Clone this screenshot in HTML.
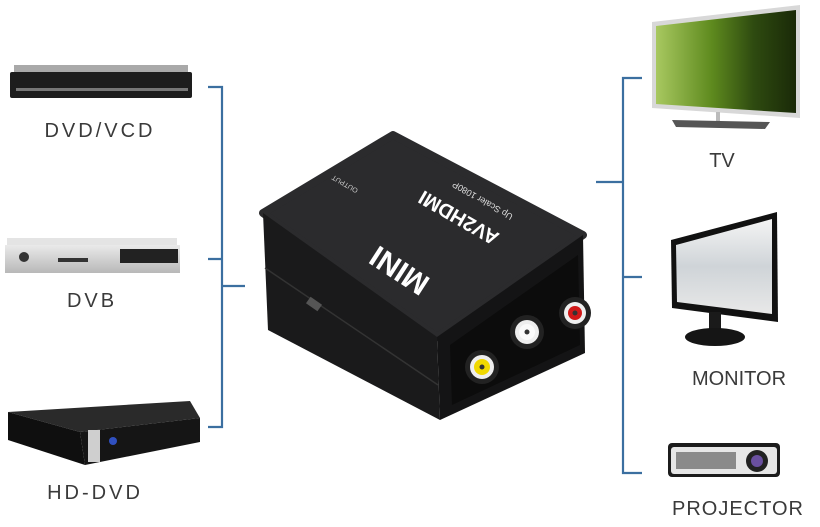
<!DOCTYPE html>
<html><head><meta charset="utf-8"><style>
html,body{margin:0;padding:0;background:#fff}
svg{display:block}
text{font-family:"Liberation Sans",sans-serif;fill:#3a3a3a}
</style></head><body>
<svg width="820" height="527" viewBox="0 0 820 527" xmlns="http://www.w3.org/2000/svg">
<defs>
<linearGradient id="tvg" x1="0" y1="0" x2="1" y2="0"><stop offset="0" stop-color="#a8c860"/><stop offset="0.4" stop-color="#5e8a1e"/><stop offset="0.7" stop-color="#2e4a10"/><stop offset="1" stop-color="#1a2a08"/></linearGradient>
<linearGradient id="mon" x1="0" y1="0" x2="0" y2="1"><stop offset="0" stop-color="#f4f4f4"/><stop offset="0.5" stop-color="#cfd4d8"/><stop offset="1" stop-color="#e8e8e8"/></linearGradient>
<linearGradient id="sil" x1="0" y1="0" x2="0" y2="1"><stop offset="0" stop-color="#eaeaea"/><stop offset="1" stop-color="#b8b8b8"/></linearGradient>
</defs>
<g stroke="#3b6fa0" stroke-width="2.2" fill="none">
<path d="M208 87H222V427H208M208 259H222M222 286H245"/>
<path d="M642 78H623V473H642M642 277H623M623 182H596"/>
</g>
<!-- DVD -->
<rect x="14" y="65" width="174" height="8" fill="#a9a9a9"/>
<rect x="10" y="72" width="182" height="26" rx="2" fill="#1d1d1d"/>
<rect x="16" y="88" width="172" height="3" fill="#777"/>
<text x="100" y="137" font-size="20" text-anchor="middle" letter-spacing="3">DVD/VCD</text>
<!-- DVB -->
<rect x="7" y="238" width="170" height="8" fill="#e4e4e4"/>
<rect x="5" y="245" width="175" height="28" fill="url(#sil)"/>
<rect x="120" y="249" width="58" height="14" fill="#222"/>
<circle cx="24" cy="257" r="5" fill="#333"/>
<rect x="58" y="258" width="30" height="4" fill="#333"/>
<text x="92" y="307" font-size="20" text-anchor="middle" letter-spacing="3">DVB</text>
<!-- HD-DVD -->
<polygon points="8,412 190,401 200,418 80,432" fill="#2a2a2a"/>
<polygon points="8,412 80,432 85,465 8,440" fill="#0f0f0f"/>
<polygon points="80,432 200,418 200,442 85,465" fill="#151515"/>
<rect x="88" y="430" width="12" height="32" fill="#cfcfcf"/>
<circle cx="113" cy="441" r="4" fill="#3050c0"/>
<text x="95" y="499" font-size="20" text-anchor="middle" letter-spacing="3">HD-DVD</text>
<!-- converter box -->
<polygon points="263,213 393,135 583,235 437,337" fill="#2b2b2d" stroke="#2b2b2d" stroke-width="8" stroke-linejoin="round"/>
<polygon points="263,213 437,337 440,420 268,330" fill="#1a1a1b"/>
<polygon points="437,337 583,235 585,353 440,420" fill="#141415"/>
<polygon points="450,345 578,255 580,345 452,405" fill="#0c0c0c"/>
<line x1="265" y1="268" x2="438" y2="385" stroke="#333" stroke-width="1.5"/>
<text transform="translate(405,262) rotate(213)" font-size="30" font-weight="bold" style="fill:#fff" text-anchor="middle">MINI</text>
<text transform="translate(462,212) rotate(210)" font-size="20" font-weight="bold" style="fill:#fff" text-anchor="middle">AV2HDMI</text>
<text transform="translate(484,198) rotate(210)" font-size="9" style="fill:#ddd" text-anchor="middle">Up Scaler 1080P</text>
<text transform="translate(346,182) rotate(210)" font-size="7" style="fill:#ccc" text-anchor="middle">OUTPUT</text>
<rect x="307" y="300" width="14" height="8" fill="#555" transform="rotate(35 314 304)"/>
<circle cx="482" cy="367" r="17" fill="#222"/><circle cx="482" cy="367" r="12" fill="#eee"/><circle cx="482" cy="367" r="8" fill="#f0d800"/><circle cx="482" cy="367" r="2.5" fill="#333"/>
<circle cx="527" cy="332" r="17" fill="#222"/><circle cx="527" cy="332" r="12" fill="#eee"/><circle cx="527" cy="332" r="8" fill="#fafafa"/><circle cx="527" cy="332" r="2.5" fill="#333"/>
<circle cx="575" cy="313" r="16" fill="#222"/><circle cx="575" cy="313" r="11" fill="#eee"/><circle cx="575" cy="313" r="7" fill="#d01818"/><circle cx="575" cy="313" r="2.5" fill="#333"/>
<!-- TV -->
<polygon points="652,22 800,5 800,118 652,108" fill="#d8d8d8"/>
<polygon points="656,26 796,10 796,113 656,104" fill="url(#tvg)"/>
<rect x="716" y="112" width="4" height="10" fill="#bbb"/>
<polygon points="672,120 770,122 765,129 676,127" fill="#555"/>
<text x="722" y="167" font-size="20" text-anchor="middle">TV</text>
<!-- Monitor -->
<polygon points="671,240 777,212 778,322 672,308" fill="#111"/>
<polygon points="676,245 772,219 772,314 677,302" fill="url(#mon)"/>
<rect x="709" y="312" width="12" height="20" fill="#1a1a1a"/>
<ellipse cx="715" cy="337" rx="30" ry="9" fill="#151515"/>
<text x="739" y="385" font-size="20" text-anchor="middle">MONITOR</text>
<!-- Projector -->
<rect x="668" y="443" width="112" height="34" rx="4" fill="#1c1c1c"/>
<rect x="671" y="447" width="106" height="27" rx="3" fill="#e6e6e6"/>
<rect x="676" y="452" width="60" height="17" fill="#8a8a8a"/>
<circle cx="757" cy="461" r="11" fill="#222"/><circle cx="757" cy="461" r="6" fill="#6a50a0"/>
<text x="738" y="515" font-size="20" text-anchor="middle" letter-spacing="1">PROJECTOR</text>
</svg>
</body></html>
